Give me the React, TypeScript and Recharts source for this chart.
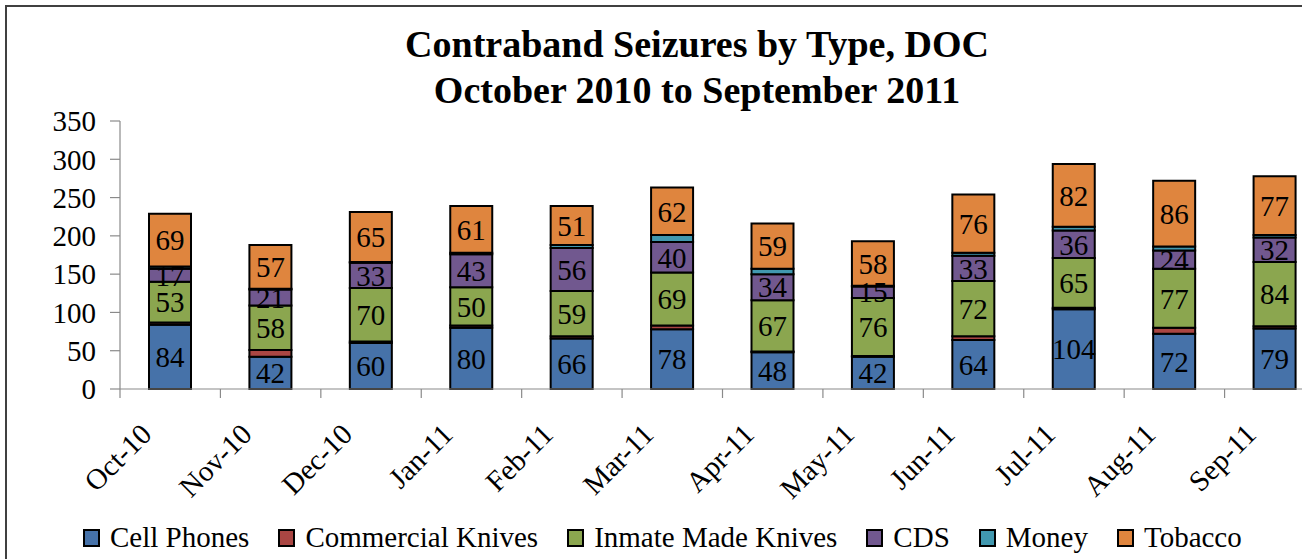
import React from 'react';
import { BarChart, Bar, XAxis, YAxis, Legend, LabelList } from 'recharts';

const months = ['Oct-10', 'Nov-10', 'Dec-10', 'Jan-11', 'Feb-11', 'Mar-11', 'Apr-11', 'May-11', 'Jun-11', 'Jul-11', 'Aug-11', 'Sep-11'];
const cellPhones = [84, 42, 60, 80, 66, 78, 48, 42, 64, 104, 72, 79];
const commercialKnives = [3, 9, 2, 3, 3, 5, 1, 1, 5, 2, 8, 3];
const inmateMadeKnives = [53, 58, 70, 50, 59, 69, 67, 76, 72, 65, 77, 84];
const cds = [17, 21, 33, 43, 56, 40, 34, 15, 33, 36, 24, 32];
const money = [3, 1, 1, 2, 4, 9, 7, 1, 4, 5, 5, 3];
const tobacco = [69, 57, 65, 61, 51, 62, 59, 58, 76, 82, 86, 77];
const yTicks = [0, 50, 100, 150, 200, 250, 300, 350];

const titleLines = ['Contraband Seizures by Type, DOC', 'October 2010 to September 2011'];

const series = [
  { key: 'cellPhones', name: 'Cell Phones', color: '#4672A9', label: true },
  { key: 'commercialKnives', name: 'Commercial Knives', color: '#AA4643', label: false },
  { key: 'inmateMadeKnives', name: 'Inmate Made Knives', color: '#8BA64F', label: true },
  { key: 'cds', name: 'CDS', color: '#71588F', label: true },
  { key: 'money', name: 'Money', color: '#4198AF', label: false },
  { key: 'tobacco', name: 'Tobacco', color: '#DF853E', label: true },
];

const data = months.map((month, i) => ({
  month,
  cellPhones: cellPhones[i],
  commercialKnives: commercialKnives[i],
  inmateMadeKnives: inmateMadeKnives[i],
  cds: cds[i],
  money: money[i],
  tobacco: tobacco[i],
}));

const FONT = '"Liberation Serif", "Times New Roman", Times, serif';
const AXIS_GRAY = '#8a8a8a';

const XTick = (props: any) => {
  const { x, y, payload } = props;
  const off = payload && typeof payload.offset === 'number' ? payload.offset : 0;
  return (
    <g>
      <line x1={x - off} x2={x - off} y1={y} y2={y + 9} stroke={AXIS_GRAY} strokeWidth={1.2} />
      <g transform={`translate(${x - 17},${y + 47}) rotate(-45)`}>
        <text x={0} y={0} textAnchor="end" fontSize={29} fontFamily={FONT} fill="#000">
          {payload.value}
        </text>
      </g>
    </g>
  );
};

const LegendContent = () => (
  <div style={{ display: 'flex', alignItems: 'center', gap: 29, fontFamily: FONT, fontSize: 29, lineHeight: '29px', color: '#000', whiteSpace: 'nowrap' }}>
    {series.map((s) => (
      <div key={s.key} style={{ display: 'flex', alignItems: 'center' }}>
        <span style={{ display: 'inline-block', width: 13, height: 14, background: s.color, border: '2px solid #000', marginRight: 10 }} />
        <span>{s.name}</span>
      </div>
    ))}
  </div>
);

export default function App() {
  return (
    <div style={{ position: 'absolute', left: 0, top: 0, width: 1302, height: 559, overflow: 'hidden', background: '#fff' }}>
      <div style={{ position: 'absolute', left: 5, top: 5, width: 1400, height: 700, border: '2px solid #404040', boxSizing: 'border-box' }} />
      <div style={{ position: 'absolute', left: 0, top: 21, width: 1394, textAlign: 'center', fontFamily: FONT, fontWeight: 'bold', fontSize: 38, lineHeight: '46px', color: '#000', whiteSpace: 'nowrap' }}>
        {titleLines.map((t) => (
          <div key={t}>{t}</div>
        ))}
      </div>
      <div style={{ position: 'absolute', left: 0, top: 0 }}>
        <BarChart
          width={1340}
          height={559}
          data={data}
          margin={{ top: 121, right: 15, left: 0, bottom: 70 }}
          barSize={42}
          style={{ fontFamily: FONT }}
        >
          <XAxis
            dataKey="month"
            interval={0}
            tickLine={false}
            tickSize={0}
            tickMargin={0}
            height={100}
            axisLine={{ stroke: AXIS_GRAY, strokeWidth: 1.2 }}
            tick={<XTick />}
          />
          <YAxis
            width={120}
            domain={[0, 350]}
            ticks={yTicks}
            interval={0}
            tickSize={10}
            tickMargin={14}
            axisLine={{ stroke: AXIS_GRAY, strokeWidth: 1.2 }}
            tickLine={{ stroke: AXIS_GRAY, strokeWidth: 1.2 }}
            tick={{ fontSize: 29, fill: '#000', fontFamily: FONT }}
          />
          <Legend
            layout="horizontal"
            verticalAlign="middle"
            align="center"
            wrapperStyle={{ top: 523, left: 83, width: 1240, height: 29 }}
            content={<LegendContent />}
          />
          {series.map((s) => (
            <Bar key={s.key} dataKey={s.key} name={s.name} stackId="a" fill={s.color} stroke="#000" strokeWidth={2} isAnimationActive={false}>
              {s.label ? (
                <LabelList dataKey={s.key} position="center" fill="#000" fontSize={29} fontFamily={FONT} />
              ) : null}
            </Bar>
          ))}
        </BarChart>
      </div>
    </div>
  );
}
